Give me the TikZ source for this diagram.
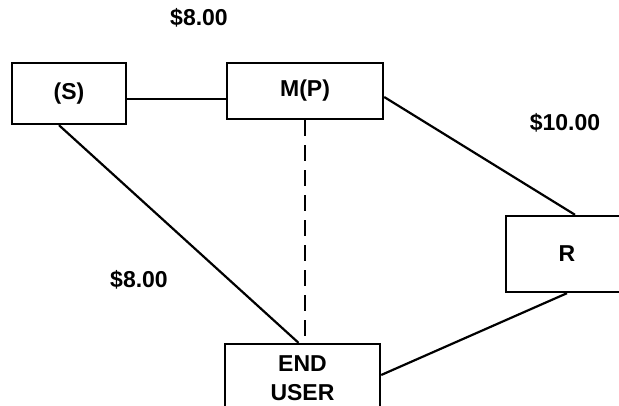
\documentclass[tikz,border=0pt]{standalone}
\usepackage{fontspec}
\setmainfont{Liberation Sans}
\begin{document}
\begin{tikzpicture}[x=1pt,y=-1pt,
  box/.style={draw,line width=2.4pt,rectangle,inner sep=0pt,font=\fontsize{23}{29}\selectfont\bfseries,align=center},
  link/.style={line width=2.2pt},
  price/.style={font=\fontsize{23}{28}\selectfont\bfseries,inner sep=0pt}]
\useasboundingbox (0,0) rectangle (619,406);
\clip (0,0) rectangle (619,406);
\node[box,minimum width=114pt,minimum height=61pt] (S) at (69,93.5) {(S)};
\node[box,minimum width=156pt,minimum height=56pt] (M) at (305,91) {M(P)};
\node[box,minimum width=122pt,minimum height=76pt] (R) at (567,254) {R};
\node[box,minimum width=155pt,minimum height=68pt] (E) at (302.5,378) {END\\USER};
\node[price] (p1) at (199,18) {\$8.00};
\node[price] (p2) at (565,123) {\$10.00};
\node[price] (p3) at (139,280) {\$8.00};
\draw[link] ([yshift=-5.5pt]S.east) -- ([yshift=-8pt]M.west);
\draw[link] ([xshift=-10pt]S.south) -- ([xshift=-4pt]E.north);
\draw[link,dash pattern=on 16pt off 9pt] (M.south) -- (M.south |- E.north);
\draw[link] ([yshift=-6pt]M.east) -- ([xshift=8pt]R.north);
\draw[link] (R.south) -- ([yshift=3pt]E.east);
\end{tikzpicture}
\end{document}
